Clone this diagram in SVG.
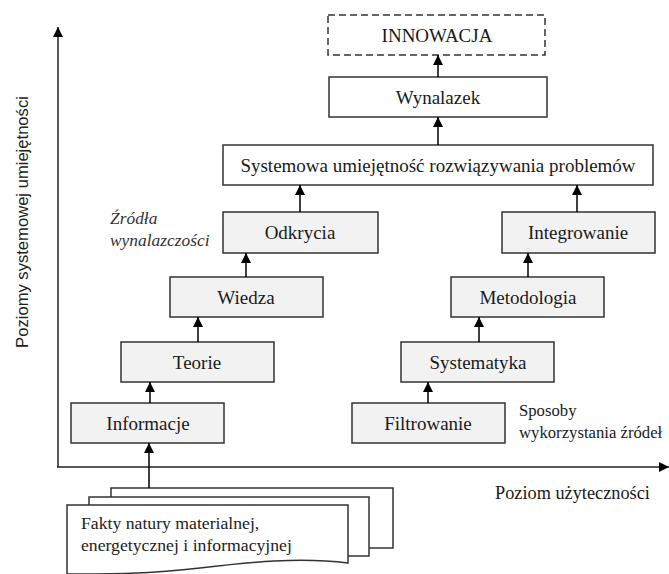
<svg xmlns="http://www.w3.org/2000/svg" width="669" height="574" viewBox="0 0 669 574">
<defs>
<marker id="ah" markerUnits="userSpaceOnUse" markerWidth="10" markerHeight="11" refX="10" refY="5.5" orient="auto">
<path d="M0,0.5 L10,5.5 L0,10.5 z" fill="#000"/>
</marker>
<style>
.box{fill:#f2f2f2;stroke:#333;stroke-width:1.5}
.wbox{fill:#fff;stroke:#333;stroke-width:1.5}
.lbl{font-family:"Liberation Serif","Times New Roman",serif;font-size:19px;fill:#1a1a1a;text-anchor:middle}
.note{font-family:"Liberation Serif","Times New Roman",serif;font-size:16.7px;fill:#1a1a1a}
.conn line{stroke:#000;stroke-width:1.5;marker-end:url(#ah)}
</style>
</defs>
<rect width="669" height="574" fill="#fff"/>

<g id="axes">
<line x1="58" y1="467" x2="58" y2="27" stroke="#222" stroke-width="1.5" marker-end="url(#ah)"/>
<line x1="57" y1="467" x2="669" y2="467" stroke="#222" stroke-width="1.5" marker-end="url(#ah)"/>
<text transform="translate(28,222) rotate(-90)" style="font-family:'Liberation Sans',Arial,sans-serif;font-size:16.6px;fill:#222;text-anchor:middle">Poziomy systemowej umiejętności</text>
<text x="495" y="499" class="note" style="font-size:18.3px">Poziom użyteczności</text>
</g>

<g id="innowacja">
<rect x="328" y="15" width="217" height="40" fill="#fff" stroke="#333" stroke-width="1.5" stroke-dasharray="7,4"/>
<text x="437" y="41.5" class="lbl">INNOWACJA</text>
</g>
<g id="wynalazek">
<rect x="329" y="77" width="218" height="40" class="wbox"/>
<text x="438" y="103.5" class="lbl">Wynalazek</text>
</g>
<g id="systemowa">
<rect x="223" y="145" width="430" height="40" class="wbox"/>
<text x="438" y="171.5" class="lbl">Systemowa umiejętność rozwiązywania problemów</text>
</g>
<g id="odkrycia">
<rect x="223" y="212" width="155" height="41" class="box"/>
<text x="300" y="238.5" class="lbl">Odkrycia</text>
</g>
<g id="integrowanie">
<rect x="502" y="212" width="153" height="41" class="box"/>
<text x="578" y="238.5" class="lbl">Integrowanie</text>
</g>
<g id="wiedza">
<rect x="170" y="277" width="153" height="40" class="box"/>
<text x="246" y="303.5" class="lbl">Wiedza</text>
</g>
<g id="metodologia">
<rect x="451" y="277" width="153" height="40" class="box"/>
<text x="528" y="303.5" class="lbl">Metodologia</text>
</g>
<g id="teorie">
<rect x="121" y="342" width="153" height="40" class="box"/>
<text x="197" y="368.5" class="lbl">Teorie</text>
</g>
<g id="systematyka">
<rect x="401" y="342" width="153" height="40" class="box"/>
<text x="478" y="368.5" class="lbl">Systematyka</text>
</g>
<g id="informacje">
<rect x="71" y="403" width="153" height="40" class="box"/>
<text x="148" y="429.5" class="lbl">Informacje</text>
</g>
<g id="filtrowanie">
<rect x="352" y="403" width="153" height="40" class="box"/>
<text x="428" y="429.5" class="lbl">Filtrowanie</text>
</g>

<g id="zrodla">
<text x="110" y="224" class="note" style="font-style:italic;fill:#333;font-size:17.4px">Źródła</text>
<text x="110" y="246" class="note" style="font-style:italic;fill:#333;font-size:17.4px">wynalazczości</text>
</g>
<g id="sposoby">
<text x="519" y="416" class="note">Sposoby</text>
<text x="519" y="438" class="note">wykorzystania źródeł</text>
</g>

<g id="fakty">
<rect x="111" y="488" width="282" height="60" fill="#fff" stroke="#333" stroke-width="1.5"/>
<rect x="89" y="497" width="280" height="59" fill="#fff" stroke="#333" stroke-width="1.5"/>
<path d="M67,574 L67,505 L348,505 L348,563 C300,557 250,562 200,568 C150,574 110,574 67,574" fill="#fff" stroke="#333" stroke-width="1.5"/>
<text x="81" y="529" class="note" style="font-size:17.7px;fill:#222">Fakty natury materialnej,</text>
<text x="81" y="551" class="note" style="font-size:17.7px;fill:#222">energetycznej i informacyjnej</text>
</g>

<g class="conn" id="connectors">
<line x1="149" y1="488" x2="149" y2="443"/>
<line x1="150" y1="403" x2="150" y2="382"/>
<line x1="198" y1="342" x2="198" y2="317"/>
<line x1="246" y1="277" x2="246" y2="253"/>
<line x1="300" y1="212" x2="300" y2="185"/>
<line x1="428" y1="403" x2="428" y2="382"/>
<line x1="479" y1="342" x2="479" y2="317"/>
<line x1="528" y1="277" x2="528" y2="253"/>
<line x1="577" y1="212" x2="577" y2="185"/>
<line x1="438" y1="145" x2="438" y2="117"/>
<line x1="438" y1="77" x2="438" y2="55"/>
</g>
</svg>
